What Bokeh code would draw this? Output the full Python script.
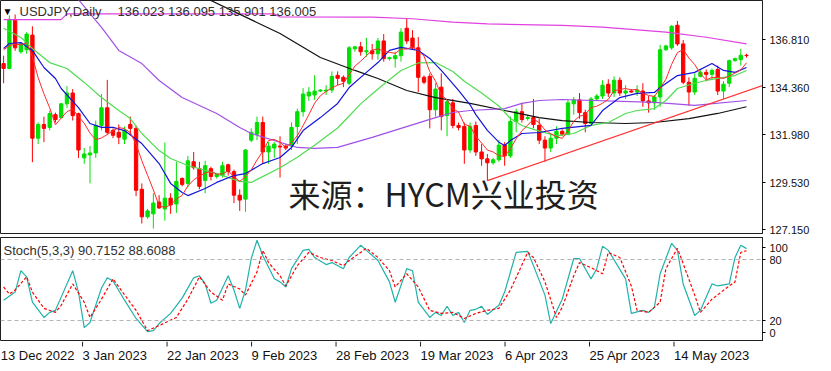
from bokeh.plotting import figure
from bokeh.models import Range1d, FixedTicker, NumeralTickFormatter, Label, Span, ColumnDataSource
from bokeh.layouts import column
from bokeh.embed import file_html
from bokeh.resources import INLINE
from bokeh.core.properties import value

# ---------------- data (USDJPY daily) ----------------
dates = [
    "2022-12-14", "2022-12-15", "2022-12-16", "2022-12-18", "2022-12-19", "2022-12-20", "2022-12-21", "2022-12-22", "2022-12-23", "2022-12-26",
    "2022-12-27", "2022-12-28", "2022-12-29", "2022-12-30", "2023-01-02", "2023-01-03", "2023-01-04", "2023-01-05", "2023-01-06", "2023-01-08",
    "2023-01-09", "2023-01-10", "2023-01-11", "2023-01-12", "2023-01-13", "2023-01-15", "2023-01-16", "2023-01-17", "2023-01-18", "2023-01-19",
    "2023-01-20", "2023-01-22", "2023-01-23", "2023-01-24", "2023-01-25", "2023-01-26", "2023-01-27", "2023-01-29", "2023-01-30", "2023-01-31",
    "2023-02-01", "2023-02-02", "2023-02-03", "2023-02-05", "2023-02-06", "2023-02-07", "2023-02-08", "2023-02-09", "2023-02-10", "2023-02-12",
    "2023-02-13", "2023-02-14", "2023-02-15", "2023-02-16", "2023-02-17", "2023-02-19", "2023-02-20", "2023-02-21", "2023-02-22", "2023-02-23",
    "2023-02-24", "2023-02-26", "2023-02-27", "2023-02-28", "2023-03-01", "2023-03-02", "2023-03-03", "2023-03-05", "2023-03-06", "2023-03-07",
    "2023-03-08", "2023-03-09", "2023-03-10", "2023-03-12", "2023-03-13", "2023-03-14", "2023-03-15", "2023-03-16", "2023-03-17", "2023-03-19",
    "2023-03-20", "2023-03-21", "2023-03-22", "2023-03-23", "2023-03-24", "2023-03-26", "2023-03-27", "2023-03-28", "2023-03-29", "2023-03-30",
    "2023-03-31", "2023-04-02", "2023-04-03", "2023-04-04", "2023-04-05", "2023-04-06", "2023-04-07", "2023-04-09", "2023-04-10", "2023-04-11",
    "2023-04-12", "2023-04-13", "2023-04-14", "2023-04-16", "2023-04-17", "2023-04-18", "2023-04-19", "2023-04-20", "2023-04-21", "2023-04-23",
    "2023-04-24", "2023-04-25", "2023-04-26", "2023-04-27", "2023-04-28", "2023-04-30", "2023-05-01", "2023-05-02", "2023-05-03", "2023-05-04",
    "2023-05-05", "2023-05-07", "2023-05-08", "2023-05-09", "2023-05-10", "2023-05-11", "2023-05-12", "2023-05-14", "2023-05-15", "2023-05-16",
]

opens = [
    135.60, 135.35, 137.80, 136.20, 136.30, 137.05, 131.80, 132.50, 132.35, 133.00,
    132.85, 133.55, 134.10, 133.05, 130.80, 130.95, 131.05, 132.45, 133.35, 132.20,
    132.10, 131.75, 132.50, 132.30, 129.20, 127.80, 127.95, 128.55, 128.20, 128.75,
    128.45, 129.75, 129.50, 130.60, 130.25, 129.65, 130.25, 129.85, 129.90, 130.45,
    130.10, 128.90, 128.70, 131.70, 132.00, 132.60, 131.10, 131.30, 131.40, 131.40,
    131.40, 132.40, 133.15, 133.95, 134.00, 134.20, 134.20, 134.25, 135.00, 134.90,
    134.60, 136.35, 136.45, 136.20, 136.25, 136.10, 136.75, 135.85, 135.85, 136.00,
    137.40, 136.90, 136.40, 134.90, 134.95, 133.25, 134.40, 132.95, 133.60, 132.45,
    132.40, 131.20, 132.45, 131.10, 130.75, 130.55, 130.70, 131.45, 130.90, 132.65,
    133.15, 132.80, 132.85, 132.45, 131.70, 131.30, 131.80, 132.15, 132.00, 133.55,
    133.75, 133.10, 132.55, 133.80, 133.95, 134.55, 134.10, 134.75, 134.10, 134.20,
    134.15, 134.20, 133.70, 133.60, 133.90, 136.30, 136.40, 137.55, 136.60, 134.65,
    134.15, 134.95, 135.15, 135.05, 135.30, 134.20, 134.60, 135.75, 135.80, 136.023,
]
highs = [
    136.00, 138.05, 138.10, 136.70, 137.20, 137.50, 132.60, 132.90, 133.20, 133.10,
    133.60, 134.45, 134.30, 133.10, 131.30, 131.40, 132.70, 134.05, 134.77, 132.30,
    132.50, 132.40, 132.90, 132.45, 129.50, 128.20, 129.00, 128.90, 131.58, 129.00,
    130.60, 129.80, 130.90, 131.10, 130.60, 130.65, 130.35, 130.00, 130.60, 130.50,
    130.20, 129.20, 131.25, 132.30, 132.90, 132.90, 131.60, 131.60, 131.90, 131.50,
    132.60, 133.30, 134.35, 134.40, 135.00, 134.30, 134.50, 135.20, 135.20, 135.00,
    136.50, 136.50, 136.70, 136.90, 136.60, 136.90, 137.10, 135.95, 136.20, 137.40,
    137.90, 137.30, 136.95, 135.00, 135.10, 134.60, 135.10, 133.80, 133.80, 132.60,
    132.60, 132.60, 132.65, 131.50, 131.00, 130.80, 131.70, 131.60, 132.90, 133.30,
    133.60, 133.00, 133.80, 132.80, 131.90, 132.00, 132.40, 132.25, 133.75, 133.90,
    134.10, 133.25, 133.90, 134.05, 134.75, 134.80, 134.95, 134.90, 134.50, 134.30,
    134.50, 134.60, 133.95, 134.00, 136.55, 136.55, 137.55, 137.77, 136.80, 134.90,
    135.10, 135.25, 135.30, 135.35, 135.50, 134.70, 135.80, 135.90, 136.35, 136.095,
]
lows = [
    134.60, 135.30, 136.25, 136.10, 136.10, 130.58, 131.50, 131.60, 132.20, 132.60,
    132.80, 133.35, 132.70, 130.80, 130.50, 129.50, 130.80, 132.20, 131.98, 131.80,
    131.50, 131.50, 131.95, 128.85, 127.46, 127.70, 127.20, 128.20, 127.60, 127.95,
    128.00, 129.35, 129.30, 130.20, 129.20, 129.00, 129.65, 129.75, 129.80, 129.90,
    128.50, 128.10, 128.05, 131.60, 131.70, 130.50, 130.50, 130.80, 129.80, 131.20,
    131.20, 131.50, 132.90, 133.70, 133.75, 134.15, 134.00, 134.10, 134.50, 134.40,
    134.50, 136.20, 136.00, 135.95, 135.80, 135.80, 135.70, 135.75, 135.40, 135.70,
    136.60, 136.30, 134.15, 134.55, 132.30, 132.90, 132.20, 131.90, 132.30, 132.20,
    130.50, 131.05, 130.90, 130.40, 129.64, 130.45, 130.60, 130.40, 130.80, 132.10,
    132.60, 132.70, 132.30, 131.50, 130.60, 131.10, 131.50, 131.90, 131.95, 133.00,
    132.80, 132.10, 132.50, 133.75, 133.80, 133.90, 133.90, 133.95, 133.80, 134.10,
    133.95, 133.40, 133.10, 133.25, 133.40, 136.25, 136.30, 136.50, 134.55, 133.45,
    134.00, 134.90, 134.70, 134.80, 134.00, 133.80, 134.40, 135.70, 135.50, 135.901,
]
closes = [
    135.35, 137.85, 136.40, 136.60, 137.10, 131.80, 132.50, 132.30, 133.05, 132.75,
    133.55, 134.10, 132.95, 131.20, 131.00, 131.05, 132.45, 133.35, 132.10, 131.95,
    131.85, 132.20, 132.30, 129.15, 127.80, 128.10, 128.50, 128.25, 128.75, 128.40,
    129.60, 129.45, 130.65, 130.30, 129.35, 130.40, 129.85, 129.95, 130.40, 130.10,
    128.90, 128.65, 131.20, 132.10, 132.60, 131.10, 131.40, 131.50, 131.35, 131.30,
    132.35, 133.15, 134.05, 134.15, 134.20, 134.25, 134.25, 134.95, 134.85, 134.70,
    136.40, 136.45, 136.20, 136.25, 136.10, 136.75, 135.85, 135.90, 136.00, 137.20,
    136.75, 136.40, 134.90, 134.65, 133.25, 134.30, 132.90, 133.65, 132.45, 132.35,
    131.20, 132.40, 131.10, 130.75, 130.55, 130.70, 131.45, 130.90, 132.65, 133.15,
    132.75, 132.85, 132.50, 131.70, 131.30, 131.80, 132.15, 132.00, 133.60, 133.75,
    133.10, 132.55, 133.80, 133.95, 134.50, 134.10, 134.75, 134.10, 134.20, 134.15,
    134.25, 133.70, 133.60, 133.90, 136.30, 136.50, 137.50, 136.60, 134.65, 134.15,
    134.85, 135.15, 135.05, 135.25, 134.20, 134.55, 135.75, 135.85, 136.02, 136.005,
]

# red moving average (one value per bar)
ma_red = [
    136.30, 136.50, 136.60, 136.55, 136.66, 135.95, 134.88, 134.06, 133.35, 132.48,
    132.83, 133.15, 133.28, 132.91, 132.56, 132.06, 131.73, 131.81, 131.99, 132.18,
    132.34, 132.29, 132.08, 131.49, 130.66, 129.91, 129.17, 128.36, 128.28, 128.40,
    128.70, 128.89, 129.37, 129.68, 129.87, 130.03, 130.11, 129.97, 129.99, 130.14,
    129.84, 129.60, 129.85, 130.19, 130.69, 131.13, 131.68, 131.74, 131.59, 131.33,
    131.58, 131.93, 132.44, 133.00, 133.58, 133.96, 134.18, 134.36, 134.50, 134.60,
    135.03, 135.47, 135.72, 136.00, 136.28, 136.35, 136.23, 136.17, 136.12, 136.34,
    136.34, 136.45, 136.25, 135.98, 135.19, 134.70, 134.00, 133.75, 133.31, 133.13,
    132.51, 132.41, 131.90, 131.56, 131.20, 131.10, 130.91, 130.87, 131.25, 131.77,
    132.18, 132.46, 132.78, 132.59, 132.22, 132.03, 131.89, 131.79, 132.17, 132.66,
    132.92, 133.00, 133.36, 133.43, 133.58, 133.78, 134.22, 134.28, 134.33, 134.26,
    134.29, 134.08, 133.98, 133.92, 134.35, 134.80, 135.56, 136.16, 136.31, 135.88,
    135.55, 135.08, 134.77, 134.89, 134.90, 134.84, 134.96, 135.12, 135.27, 135.64,
]

# blue moving average (read at bars)
ma_blue_idx = [0, 1, 3, 5, 7, 9, 10, 13, 15, 17, 19, 21, 24, 27, 29, 31, 32, 35, 37, 40,
               42, 45, 48, 50, 52, 55, 58, 60, 63, 65, 67, 69, 72, 74, 76, 79, 81, 82, 84, 86,
               87, 88, 90, 93, 97, 102, 104, 107, 110, 113, 114, 117, 120, 123, 125, 127, 129]
ma_blue = [136.37, 136.62, 136.67, 136.27, 135.40, 134.84, 134.33, 133.36, 132.55, 132.35,
           132.35, 132.19, 131.53, 130.51, 129.50, 129.04, 128.88, 129.24, 129.55, 129.90,
           130.00, 130.51, 130.82, 131.33, 132.19, 132.85, 133.57, 134.38, 135.15, 135.65,
           136.27, 136.42, 136.27, 135.86, 135.25, 134.23, 133.50, 133.00, 132.20, 131.60,
           131.43, 131.68, 132.04, 132.09, 132.30, 132.45, 133.21, 133.87, 134.08, 134.13,
           134.38, 134.99, 135.15, 135.60, 135.25, 135.15, 135.40]

# light green moving average
ma_green_idx = [0, 3, 5, 8, 11, 14, 17, 20, 22, 24, 27, 29, 32, 37, 41, 43, 48, 51, 54, 58,
                60, 62, 64, 66, 69, 72, 75, 78, 80, 83, 86, 88, 90, 92, 96, 99, 102, 105, 108, 110,
                113, 115, 117, 120, 122, 125, 127, 129]
ma_green = [137.40, 136.93, 136.37, 135.65, 135.35, 134.64, 133.87, 133.21, 132.80, 132.04,
            131.17, 130.77, 130.41, 130.00, 129.60, 129.55, 130.30, 130.83, 131.44, 132.32,
            132.93, 133.55, 134.05, 134.55, 135.25, 135.63, 135.65, 135.20, 134.70, 134.10,
            133.44, 132.80, 132.45, 132.25, 131.92, 132.04, 132.45, 132.60, 133.06, 133.21,
            133.31, 133.72, 134.33, 134.60, 134.74, 134.90, 134.99, 135.25]

# purple moving average
ma_purple_idx = [13, 17, 20, 24, 27, 31, 37, 41, 43, 51, 54, 58, 64, 69, 75, 78, 81, 87, 90, 93,
                 97, 113, 120, 129]
ma_purple = [138.85, 137.44, 136.27, 135.60, 134.74, 133.87, 133.06, 132.35, 132.04, 131.33,
             131.28, 131.33, 131.84, 132.30, 132.85, 133.11, 133.21, 133.31, 133.57, 133.72,
             133.77, 133.62, 133.47, 133.72]

# black moving average
ma_black_idx = [35, 48, 55, 61, 65, 70, 75, 81, 87, 93, 97, 102, 108, 113, 119, 124, 129]
ma_black = [138.95, 137.13, 135.91, 135.25, 134.84, 134.23, 133.87, 133.57, 133.21, 132.85,
            132.70, 132.60, 132.55, 132.60, 132.80, 133.06, 133.40]

# magenta moving average
ma_magenta_idx = [0, 10, 11, 47, 48, 64, 71, 78, 84, 97, 104, 115, 122, 129]
ma_magenta = [137.84, 137.84, 138.13, 138.13, 137.97, 137.96, 137.88, 137.71, 137.62, 137.54,
              137.45, 137.20, 136.94, 136.60]

# red trend line (from the 24 Mar low)
trend_idx = [84, 132]
trend_val = [129.64, 134.50]

# Stochastic (5,3,3)
stoch_k_idx = [0, 2, 3, 4, 5, 7, 8, 9, 10, 12, 13, 14, 15, 17, 18, 19, 21, 23, 25, 26,
               27, 29, 31, 33, 34, 35, 36, 37, 39, 40, 41, 42, 43, 44, 45, 47, 48, 49, 50, 52,
               53, 54, 56, 57, 59, 60, 62, 63, 65, 67, 68, 70, 71, 72, 74, 75, 76, 77, 78, 79,
               80, 81, 82, 83, 84, 86, 87, 89, 91, 92, 94, 95, 97, 99, 100, 102, 103, 104, 105, 108,
               109, 111, 112, 113, 114, 116, 117, 118, 120, 121, 123, 124, 126, 127, 128, 129]
stoch_k = [40, 48, 69, 63, 38, 23, 28, 30, 43, 69, 48, 13, 18, 52, 62, 59, 40, 22, 9, 10,
           17, 27, 42, 62, 64, 56, 37, 40, 64, 50, 32, 50, 81, 99, 84, 61, 58, 53, 71, 89,
           90, 82, 75, 77, 71, 82, 94, 89, 79, 58, 38, 71, 69, 38, 23, 28, 25, 34, 25, 28,
           18, 30, 31, 34, 26, 35, 48, 87, 88, 74, 45, 17, 41, 81, 81, 61, 71, 93, 89, 61,
           27, 30, 28, 33, 66, 96, 89, 56, 25, 30, 56, 54, 56, 82, 94, 90.72]
stoch_d_idx = [0, 1, 2, 4, 5, 7, 9, 10, 12, 14, 15, 17, 19, 20, 23, 25, 27, 30, 32, 34,
               36, 38, 39, 41, 42, 44, 45, 46, 48, 49, 51, 53, 55, 57, 59, 60, 63, 65, 67, 68,
               70, 72, 74, 76, 78, 80, 82, 84, 86, 88, 91, 92, 94, 96, 97, 99, 100, 102, 104, 105,
               107, 109, 110, 112, 114, 115, 117, 118, 120, 121, 123, 126, 127, 128, 129]
stoch_d = [53, 46, 50, 63, 48, 32, 28, 35, 56, 38, 23, 41, 61, 53, 30, 10, 15, 23, 41, 63,
           48, 40, 56, 51, 45, 68, 89, 77, 64, 54, 74, 87, 82, 79, 74, 79, 91, 82, 69, 53,
           66, 53, 30, 27, 28, 22, 27, 30, 32, 50, 87, 82, 58, 23, 33, 64, 77, 72, 66, 87,
           82, 54, 30, 28, 38, 71, 91, 76, 45, 28, 41, 54, 58, 87, 88.61]
stoch_levels = [20, 80]

# axis ticks
price_ticks = [127.15, 129.53, 131.98, 134.36, 136.81]
last_price = 136.005
stoch_tick_vals = [8.2, 20, 80, 91.8]
stoch_tick_text = ["0", "20", "80", "100"]
date_tick_idx = [-1, 15, 31, 47, 63, 79, 95, 111, 127]
date_label_idx = [-0.5, 15, 31, 47, 63, 79, 95, 111, 127]
date_tick_labels = ["13 Dec 2022", "3 Jan 2023", "22 Jan 2023", "9 Feb 2023", "28 Feb 2023",
                    "19 Mar 2023", "6 Apr 2023", "25 Apr 2023", "14 May 2023"]

assert len(dates) == len(opens) == len(highs) == len(lows) == len(closes) == len(ma_red)
assert len(ma_blue_idx) == len(ma_blue) and len(ma_green_idx) == len(ma_green)
assert len(stoch_k_idx) == len(stoch_k) and len(stoch_d_idx) == len(stoch_d)

# ---------------- figures ----------------
UP = "#00E000"
DN = "#FF0000"
FONT = "Liberation Sans"
BAR_PX = 5.759  # horizontal spacing of bars in pixels

idx = list(range(len(dates)))
src = ColumnDataSource(dict(
    x=idx, h=highs, l=lows,
    top=[max(o, c) for o, c in zip(opens, closes)],
    bot=[min(o, c) for o, c in zip(opens, closes)],
    col=[UP if c >= o else DN for o, c in zip(opens, closes)],
))

x0 = -0.54
x_rng = Range1d(x0, x0 + 762 / BAR_PX)

p = figure(width=831, height=235, x_range=x_rng, y_range=Range1d(126.95, 138.81),
           output_backend="svg", toolbar_location=None, x_axis_location=None,
           y_axis_location="right", min_border_left=0, min_border_right=69,
           min_border_top=0, min_border_bottom=2)
p.grid.visible = False
p.outline_line_color = "#202020"
p.background_fill_color = "white"
p.border_fill_color = "white"

p.segment(x0="x", y0="l", x1="x", y1="h", source=src, line_color="col", line_width=1)
p.vbar(x="x", width=0.58, top="top", bottom="bot", source=src,
       fill_color="col", line_color="col", line_width=1)

p.line(ma_magenta_idx, ma_magenta, line_color="#E040E0", line_width=1.2)
p.line(ma_black_idx, ma_black, line_color="#111111", line_width=1.2)
p.line(ma_purple_idx, ma_purple, line_color="#A050E6", line_width=1.2)
p.line(ma_green_idx, ma_green, line_color="#50DC50", line_width=1.2)
p.line(ma_blue_idx, ma_blue, line_color="#1414DC", line_width=1.2)
p.line(idx, ma_red, line_color="#FF2A2A", line_width=1)
p.line(trend_idx, trend_val, line_color="#FF3030", line_width=1.2)

ya = p.yaxis[0]
ya.ticker = FixedTicker(ticks=price_ticks)
ya.formatter = NumeralTickFormatter(format="0.000")
ya.major_tick_out = 3
ya.major_tick_in = 0
ya.minor_tick_line_color = None
ya.axis_line_color = "#202020"
ya.major_label_standoff = 4
ya.major_label_text_font = FONT
ya.major_label_text_font_size = "11px"
ya.major_label_text_color = "#111111"

p.add_layout(Label(x=763, y=last_price, x_units="screen", y_units="data", text="136.005",
                   text_color="white", text_font=FONT, text_font_size="11px",
                   text_baseline="middle", text_align="left",
                   background_fill_color="black",
                   padding=dict(left=6, right=15, top=2, bottom=2)))

p.add_layout(Label(x=2, y=222, x_units="screen", y_units="screen", text="\u25bc",
                   text_color="black", text_font=FONT, text_font_size="10px",
                   text_baseline="middle"))
p.add_layout(Label(x=19, y=222, x_units="screen", y_units="screen", text="USDJPY,Daily",
                   text_color="#303030", text_font=FONT, text_font_size="13px",
                   text_baseline="middle"))
p.add_layout(Label(x=117, y=222, x_units="screen", y_units="screen",
                   text="136.023 136.095 135.901 136.005",
                   text_color="#303030", text_font=FONT, text_font_size="13px",
                   text_baseline="middle"))
p.add_layout(Label(x=288, y=41, x_units="screen", y_units="screen", text="来源：HYCM兴业投资",
                   text_color="#1e1e1e", text_font="Noto Sans CJK SC", text_font_size="32px",
                   text_baseline="middle"))

# stochastic panel
s = figure(width=831, height=106, x_range=x_rng, y_range=Range1d(-0.65, 101.67),
           output_backend="svg", toolbar_location=None, x_axis_location=None,
           y_axis_location="right", min_border_left=0, min_border_right=69,
           min_border_top=2, min_border_bottom=0)
s.grid.visible = False
s.outline_line_color = "#202020"
s.background_fill_color = "white"
s.border_fill_color = "white"

for lv in stoch_levels:
    s.add_layout(Span(location=lv, dimension="width", line_color="#B4B4B4",
                      line_dash="4 3", line_width=1))
s.line(stoch_k_idx, stoch_k, line_color="#20B2AA", line_width=1.2)
s.line(stoch_d_idx, stoch_d, line_color="#FF0000", line_dash="3 2", line_width=1.2)

sy = s.yaxis[0]
sy.ticker = FixedTicker(ticks=stoch_tick_vals)
sy.major_label_overrides = {v: t for v, t in zip(stoch_tick_vals, stoch_tick_text)}
sy.major_tick_out = 3
sy.major_tick_in = 0
sy.minor_tick_line_color = None
sy.axis_line_color = "#202020"
sy.major_label_standoff = 4
sy.major_label_text_font = FONT
sy.major_label_text_font_size = "11px"
sy.major_label_text_color = "#111111"

s.add_layout(Label(x=3, y=91, x_units="screen", y_units="screen",
                   text="Stoch(5,3,3) 90.7152 88.6088", text_color="#303030",
                   text_font=FONT, text_font_size="13px", text_baseline="middle"))

# time scale strip (same bar spacing, spans the full width so labels are not cut)
t = figure(width=831, height=30, x_range=Range1d(x0, x0 + 831 / BAR_PX), y_range=Range1d(0, 30),
           output_backend="svg", toolbar_location=None, x_axis_location=None,
           y_axis_location=None, min_border_left=0, min_border_right=0,
           min_border_top=0, min_border_bottom=0)
t.grid.visible = False
t.outline_line_color = None
t.background_fill_color = "white"
t.border_fill_color = "white"
t.segment(x0=date_tick_idx, y0=[30] * len(date_tick_idx), x1=date_tick_idx,
          y1=[25] * len(date_tick_idx), line_color="#202020", line_width=1)
t.text(x=date_label_idx, y=[16] * len(date_label_idx), text=date_tick_labels,
       text_font=value(FONT), text_font_size="13px", text_color="#111111",
       text_align="left", text_baseline="middle")

layout = column(p, s, t, spacing=0)
open("out.html", "w").write(file_html(layout, INLINE))
